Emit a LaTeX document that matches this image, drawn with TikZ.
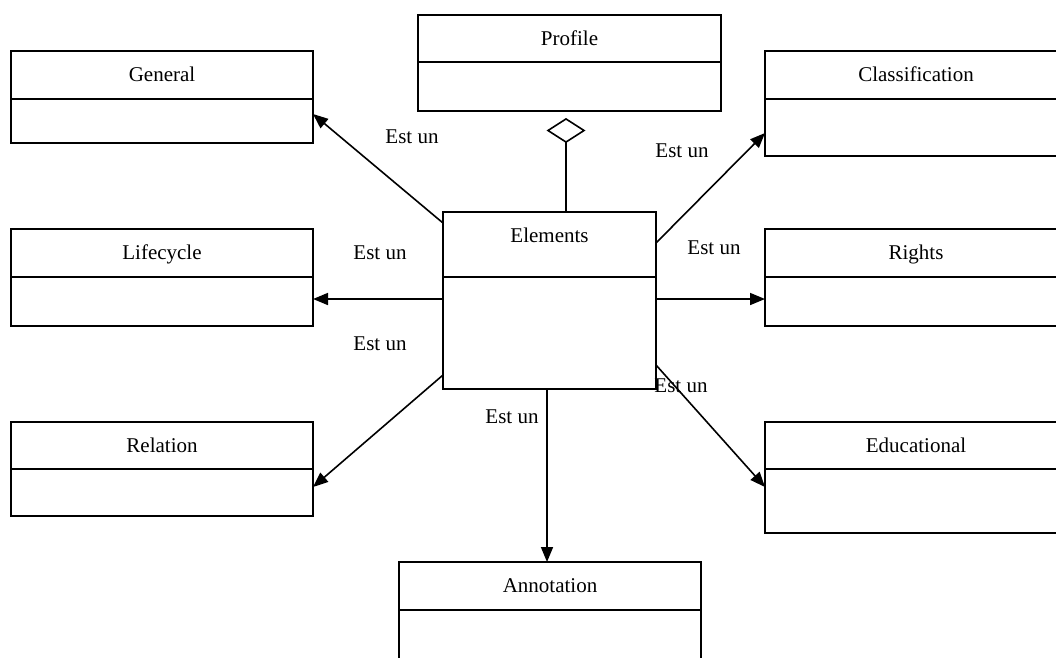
\documentclass[tikz,border=0pt]{standalone}
\usepackage{fontspec}
\setmainfont{Liberation Serif}
\usetikzlibrary{arrows.meta}

% A UML class box: name, left, top, width, height, header height, title
\newcommand{\umlclass}[7]{%
  \node[classbox, minimum width=#4pt, minimum height=#5pt, anchor=north west] (#1) at (#2,#3) {};
  \draw[classline] ([yshift=-#6pt]#1.north west) -- ([yshift=-#6pt]#1.north east);
  \node[titletext, anchor=base] (#1-title) at ([yshift=-30pt]#1.north) {#7};
}

\tikzset{
  classbox/.style={draw=black, line width=2pt, inner sep=0pt, outer sep=0pt},
  classline/.style={draw=black, line width=2pt},
  titletext/.style={inner sep=0pt, font=\fontsize{21pt}{25pt}\selectfont},
  isa/.style={draw=black, line width=1.6pt, -{Triangle[length=15pt,width=12pt]}},
  aggr/.style={draw=black, line width=1.6pt, -{Diamond[open,length=25pt,width=39pt]}, shorten >=7pt},
  relabel/.style={inner sep=0pt, anchor=base, font=\fontsize{21pt}{25pt}\selectfont},
}

\begin{document}
\begin{tikzpicture}[x=1pt, y=-1pt]
  \fill[white] (0,0) rectangle (1056,657);
  \clip (0,0) rectangle (1056,657);

  % class boxes
  \umlclass{prof}{418}{15}{303}{96}{47}{Profile}
  \umlclass{gen}{11}{51}{302}{92}{48}{General}
  \umlclass{cls}{765}{51}{302}{105}{48}{Classification}
  \umlclass{lif}{11}{229}{302}{97}{48}{Lifecycle}
  \umlclass{rig}{765}{229}{302}{97}{48}{Rights}
  \umlclass{el}{443}{212}{213}{177}{65}{Elements}
  \umlclass{rel}{11}{422}{302}{94}{47}{Relation}
  \umlclass{edu}{765}{422}{302}{111}{47}{Educational}
  \umlclass{ann}{399}{562}{302}{100}{48}{Annotation}

  % aggregation towards Profile
  \draw[aggr] ([xshift=16.5pt]el.north) -- ([xshift=-3.5pt]prof.south);

  % generalisation arrows
  \draw[isa] ([yshift=-11pt]el.north west) -- ([yshift=29pt]gen.south east);
  \draw[isa] ([yshift=-31pt]el.north east) -- ([yshift=23pt]cls.south west);
  \draw[isa] ([yshift=-87pt]el.north west) -- ([yshift=27pt]lif.south east);
  \draw[isa] ([yshift=-87pt]el.north east) -- ([yshift=27pt]rig.south west);
  \draw[isa] ([yshift=14pt]el.south west) -- ([yshift=29pt]rel.south east);
  \draw[isa] ([yshift=24pt]el.south east) -- ([yshift=46pt]edu.south west);
  \draw[isa] ([xshift=-2.5pt]el.south) -- ([xshift=-3pt]ann.north);

  % relation labels
  \node[relabel] (l-gen) at (412,143) {Est un};
  \node[relabel] (l-cls) at (682,157) {Est un};
  \node[relabel] (l-lif) at (380,259) {Est un};
  \node[relabel] (l-rel) at (380,350) {Est un};
  \node[relabel] (l-rig) at (714,254) {Est un};
  \node[relabel] (l-edu) at (681,392) {Est un};
  \node[relabel] (l-ann) at (512,423) {Est un};
\end{tikzpicture}
\end{document}
